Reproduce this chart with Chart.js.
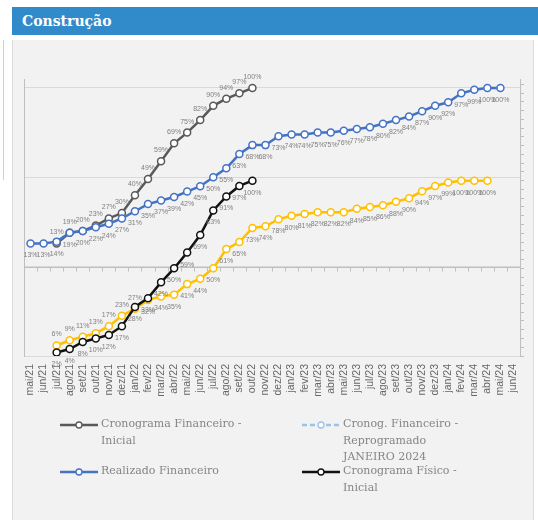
<!DOCTYPE html>
<html>
<head>
<meta charset="utf-8">
<script src="https://cdn.jsdelivr.net/npm/chart.js@4.4.1/dist/chart.umd.min.js"></script>
<style>
  html, body { margin:0; padding:0; background:#fff; width:538px; height:520px; overflow:hidden; }
  #side { position:absolute; left:3px; top:40px; width:1px; height:140px; background:#d0d0d0; }
  #bar { position:absolute; left:12px; top:7px; width:526px; height:28px; background:#318bcb; }
  #bar h1 { margin:0; padding-left:10px; font:bold 14px "DejaVu Serif", serif; color:#fff; line-height:28px; }
  #panel { position:absolute; left:12px; top:40px; width:522px; height:480px; background:#f2f2f2;
           border-left:1px solid #dcdcdc; border-right:1px solid #dcdcdc; box-sizing:border-box; }
  #wrap { position:absolute; left:0; top:40px; width:538px; height:380px; }
  #legend { position:absolute; left:0; top:0; width:538px; height:520px; pointer-events:none; }
  .item { position:absolute; display:flex; align-items:flex-start; }
  .item svg { flex:none; }
  .item span { font:11px "DejaVu Serif", serif; color:#858585; line-height:16.5px; white-space:pre-line; margin-left:3px; }
  .s0 { left:60px; top:416px; }
  .s1 { left:302px; top:416px; }
  .s2 { left:60px; top:463px; }
  .s3 { left:302px; top:463px; }
</style>
</head>
<body>
<div id="side"></div>
<div id="bar"><h1>Construção</h1></div>
<div id="panel"></div>
<div id="wrap"><canvas id="c" width="538" height="380"></canvas></div>
<div id="legend"></div>
<script>
// ---- data (percent) ----
const categories = ['mai/21','jun/21','jul/21','ago/21','set/21','out/21','nov/21','dez/21',
  'jan/22','fev/22','mar/22','abr/22','mai/22','jun/22','jul/22','ago/22','set/22','out/22','nov/22','dez/22',
  'jan/23','fev/23','mar/23','abr/23','mai/23','jun/23','jul/23','ago/23','set/23','out/23','nov/23','dez/23',
  'jan/24','fev/24','mar/24','abr/24','mai/24','jun/24'];

const cronogramaFinanceiroInicial = [null,null,13,19,20,23,27,30,40,49,59,69,75,82,90,94,97,100];

const realizadoFinanceiro = [13,13,14,19,20,22,24,27,31,35,37,39,42,45,50,55,63,68,68,73,74,74,75,75,
  76,77,78,80,82,84,87,90,92,97,99,100,100,null];

const cronogFinanceiroReprogramado = [];

const cronogramaFisicoInicial = [null,null,2,4,8,10,12,17,28,33,42,50,59,69,83,91,97,100];

const realizadoFisico = [null,null,6,9,11,13,17,23,27,32,34,35,41,44,50,61,65,73,74,78,80,81,82,82,
  82,84,85,86,88,90,94,97,99,100,100,100,null,null];

const leftGridValues = [-50, 0, 50, 100];

// ---- helpers ----
function series(label, data, color, axis, extra) {
  return Object.assign({
    label, data, yAxisID: axis,
    borderColor: color, backgroundColor: color,
    pointBackgroundColor: '#ffffff', pointBorderColor: color,
    pointRadius: 3.5, pointBorderWidth: 1.5, pointHoverRadius: 3.5,
    borderWidth: 2.5, tension: 0, spanGaps: false, fill: false
  }, extra || {});
}

const datasets = [
  series('Cronograma Financeiro -\nInicial', cronogramaFinanceiroInicial, '#595959', 'y',
    { order: 3, showInLegend: true, labelPos: 'above' }),
  series('Cronog. Financeiro -\nReprogramado\nJANEIRO 2024', cronogFinanceiroReprogramado, '#9dc3e6', 'y',
    { order: 4, showInLegend: true, borderDash: [5, 3] }),
  series('Realizado Financeiro', realizadoFinanceiro, '#4472c4', 'y',
    { order: 1, showInLegend: true, labelPos: 'below' }),
  series('Cronograma Físico -\nInicial', cronogramaFisicoInicial, '#111111', 'y2',
    { order: 0, showInLegend: true, labelPos: 'below' }),
  series('Realizado Físico', realizadoFisico, '#ffc000', 'y2',
    { order: 2, showInLegend: false, labelPos: i => (i < 9 ? 'above' : 'below') })
];

// ---- plugins ----
const zeroAxis = {
  id: 'zeroAxis',
  beforeDatasetsDraw(chart) {
    const { ctx, chartArea } = chart;
    const xs = chart.scales.x, ys = chart.scales.y;
    const yp = Math.round(ys.getPixelForValue(0)) + 0.5;
    const step = xs.getPixelForValue(1) - xs.getPixelForValue(0);
    ctx.save();
    ctx.strokeStyle = '#bfbfbf';
    ctx.lineWidth = 1;
    ctx.beginPath();
    ctx.moveTo(chartArea.left, yp);
    ctx.lineTo(chartArea.right, yp);
    for (let i = 0; i <= categories.length; i++) {
      const xp = Math.round(xs.getPixelForValue(0) - step / 2 + i * step) + 0.5;
      ctx.moveTo(xp, yp);
      ctx.lineTo(xp, yp + 4);
    }
    ctx.stroke();
    ctx.restore();
  }
};

const pctLabels = {
  id: 'pctLabels',
  afterDatasetsDraw(chart) {
    const ctx = chart.ctx;
    ctx.save();
    ctx.font = '7px "Liberation Sans", Arial, sans-serif';
    ctx.fillStyle = '#808080';
    ctx.textAlign = 'center';
    ctx.textBaseline = 'middle';
    chart.data.datasets.forEach((d, di) => {
      if (!d.labelPos) return;
      const meta = chart.getDatasetMeta(di);
      meta.data.forEach((pt, i) => {
        const v = d.data[i];
        if (v === null || v === undefined) return;
        const pos = typeof d.labelPos === 'function' ? d.labelPos(i) : d.labelPos;
        const dy = pos === 'above' ? -11 : 12;
        ctx.fillText(Math.round(v) + '%', pt.x, pt.y + dy);
      });
    });
    ctx.restore();
  }
};

const chart = new Chart(document.getElementById('c'), {
  type: 'line',
  data: { labels: categories, datasets },
  options: {
    responsive: false,
    animation: false,
    layout: { padding: { left: 24, right: 13, top: 39, bottom: 14 } },
    plugins: { legend: { display: false }, tooltip: { enabled: false } },
    scales: {
      x: {
        type: 'category', offset: true,
        grid: { display: false, drawTicks: false },
        border: { display: false },
        ticks: {
          autoSkip: false, minRotation: 90, maxRotation: 90, padding: 8,
          color: '#666666', font: { family: '"Liberation Sans", Arial, sans-serif', size: 10.5 }
        },
        afterFit(s) { s.height = 50; }
      },
      y: {
        position: 'left', min: -50, max: 105,
        afterBuildTicks(s) { s.ticks = leftGridValues.map(v => ({ value: v })); },
        ticks: { display: false },
        grid: { color: '#d9d9d9', drawTicks: false },
        border: { display: true, color: '#bfbfbf' },
        afterFit(s) { s.width = 0; }
      },
      y2: {
        position: 'right', min: 0, max: 158,
        afterBuildTicks(s) {
          const t = [];
          for (let v = 0; v <= 155; v += 5) t.push({ value: v });
          s.ticks = t;
        },
        ticks: { display: false },
        grid: { drawOnChartArea: false, drawTicks: true, tickLength: 4, color: '#bfbfbf' },
        border: { display: true, color: '#bfbfbf' },
        afterFit(s) { s.width = 5; }
      }
    }
  },
  plugins: [zeroAxis, pctLabels]
});

// ---- HTML legend built from the datasets ----
const legendRoot = document.getElementById('legend');
chart.data.datasets.filter(d => d.showInLegend).forEach((d, k) => {
  const item = document.createElement('div');
  item.className = 'item s' + k;
  const dash = d.borderDash ? ' stroke-dasharray="' + d.borderDash.join(' ') + '"' : '';
  item.innerHTML =
    '<svg width="38" height="17" viewBox="0 0 38 17">' +
    '<line x1="0" y1="9" x2="38" y2="9" stroke="' + d.borderColor + '" stroke-width="2.5"' + dash + '/>' +
    '<circle cx="19" cy="9" r="3" fill="#fff" stroke="' + d.borderColor + '" stroke-width="1.3"/></svg>' +
    '<span></span>';
  item.querySelector('span').textContent = d.label;
  legendRoot.appendChild(item);
});
</script>
</body>
</html>
